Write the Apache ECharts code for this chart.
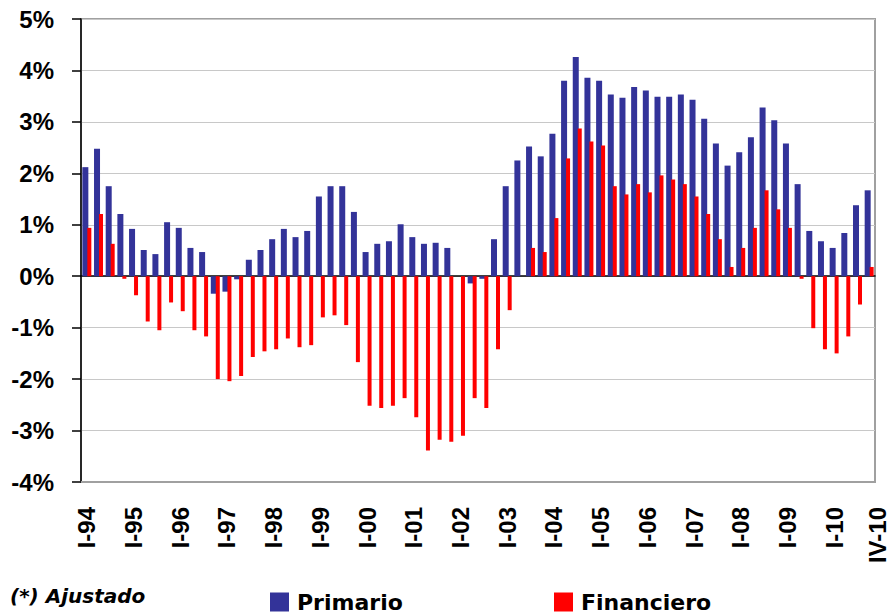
<!DOCTYPE html>
<html>
<head>
<meta charset="utf-8">
<script src="https://cdn.jsdelivr.net/npm/echarts@6/dist/echarts.min.js"></script>
<style>
  html, body { margin: 0; padding: 0; background: #fff; }
  #chart { width: 890px; height: 615px; }
</style>
</head>
<body>
<div id="chart"></div>
<script>
var years = ['94', '95', '96', '97', '98', '99', '00', '01', '02', '03', '04', '05', '06', '07', '08', '09', '10'];
var quarters = ['I', 'II', 'III', 'IV'];

// resultado en % del PIB, trimestral
var primario = [
  2.12, 2.48, 1.75, 1.21,   0.92, 0.51, 0.43, 1.05,   0.94, 0.55, 0.47, -0.34,
  -0.30, -0.06, 0.32, 0.51, 0.72, 0.92, 0.76, 0.88,   1.55, 1.75, 1.75, 1.25,
  0.47, 0.63, 0.68, 1.01,   0.76, 0.63, 0.65, 0.55,   0.00, -0.14, -0.05, 0.72,
  1.75, 2.25, 2.52, 2.33,   2.77, 3.80, 4.26, 3.86,   3.80, 3.53, 3.47, 3.68,
  3.61, 3.49, 3.49, 3.53,   3.43, 3.06, 2.58, 2.15,   2.41, 2.70, 3.28, 3.03,
  2.58, 1.79, 0.88, 0.68,   0.55, 0.84, 1.38, 1.67
];
var financiero = [
  0.94, 1.21, 0.63, -0.05,  -0.37, -0.88, -1.05, -0.51, -0.68, -1.05, -1.17, -2.00,
  -2.04, -1.94, -1.57, -1.46, -1.42, -1.21, -1.38, -1.34, -0.80, -0.76, -0.95, -1.67,
  -2.52, -2.56, -2.52, -2.37, -2.74, -3.39, -3.18, -3.22, -3.10, -2.37, -2.56, -1.42,
  -0.66, 0.00, 0.55, 0.47,  1.13, 2.29, 2.87, 2.62,   2.54, 1.75, 1.59, 1.79,
  1.63, 1.96, 1.88, 1.79,   1.55, 1.21, 0.72, 0.18,   0.55, 0.94, 1.67, 1.30,
  0.94, -0.05, -1.01, -1.42, -1.50, -1.17, -0.55, 0.18
];

var categorias = [];
years.forEach(function (y) {
  quarters.forEach(function (q) { categorias.push(q + '-' + y); });
});
var last = categorias.length - 1;

var chart = echarts.init(document.getElementById('chart'), null, { renderer: 'svg' });

var legendText = { fontFamily: 'DejaVu Sans', fontWeight: 'bold', fontSize: 22, color: '#000', padding: [0, 0, 0, 3] };

var option = {
  animation: false,
  color: ['#333399', '#ff0000'],
  title: {
    text: '(*) Ajustado',
    left: 10,
    top: 586,
    padding: 0,
    textStyle: {
      fontFamily: 'DejaVu Sans',
      fontStyle: 'italic',
      fontWeight: 'bold',
      fontSize: 20,
      color: '#000'
    }
  },
  legend: [
    {
      data: ['Primario'],
      left: 270, top: 591,
      padding: 0,
      icon: 'rect',
      itemWidth: 19, itemHeight: 19,
      textStyle: legendText
    },
    {
      data: ['Financiero'],
      left: 554, top: 591,
      padding: 0,
      icon: 'rect',
      itemWidth: 19, itemHeight: 19,
      textStyle: legendText
    }
  ],
  grid: {
    left: 81,
    right: 15,
    top: 19,
    bottom: 133,
    show: true,
    borderColor: '#a0a0a0',
    borderWidth: 2
  },
  xAxis: [
    {
      type: 'category',
      data: categorias,
      position: 'bottom',
      axisLine: { onZero: false, lineStyle: { color: '#a0a0a0', width: 2 } },
      axisTick: { show: false },
      axisLabel: {
        rotate: 90,
        margin: 25,
        interval: function (idx) { return idx % 4 === 0 || idx === last; },
        fontFamily: 'Liberation Sans',
        fontWeight: 'bold',
        fontSize: 24,
        color: '#000',
        formatter: function (v, idx) {
          return idx === last ? '{u|' + v + '}' : v;
        },
        rich: {
          u: {
            fontFamily: 'Liberation Sans',
            fontWeight: 'bold',
            fontSize: 24,
            color: '#000',
            padding: [16, 0, 0, 0]
          }
        }
      },
      splitLine: { show: false }
    },
    {
      type: 'category',
      data: categorias,
      position: 'top',
      axisLine: { onZero: true, lineStyle: { color: '#000', width: 1.5 } },
      axisTick: {
        inside: true,
        length: 10,
        interval: function (idx) { return idx % 4 === 0; },
        lineStyle: { color: '#333', width: 1.5 }
      },
      axisLabel: { show: false },
      splitLine: { show: false }
    }
  ],
  yAxis: {
    type: 'value',
    min: -4,
    max: 5,
    interval: 1,
    axisLine: { show: true, lineStyle: { color: '#000', width: 1.5 } },
    axisTick: { show: true, length: 9, lineStyle: { color: '#000', width: 1.5 } },
    axisLabel: {
      formatter: '{value}%',
      margin: 27,
      fontFamily: 'Liberation Sans',
      fontWeight: 'bold',
      fontSize: 24,
      color: '#000'
    },
    splitLine: { lineStyle: { color: '#c8c8c8', width: 1 } }
  },
  series: [
    {
      name: 'Primario',
      type: 'bar',
      xAxisIndex: 0,
      data: primario,
      barWidth: 6,
      barGap: '-17%'
    },
    {
      name: 'Financiero',
      type: 'bar',
      xAxisIndex: 0,
      data: financiero,
      barWidth: 4,
      barGap: '-17%'
    }
  ]
};

chart.setOption(option);
</script>
</body>
</html>
